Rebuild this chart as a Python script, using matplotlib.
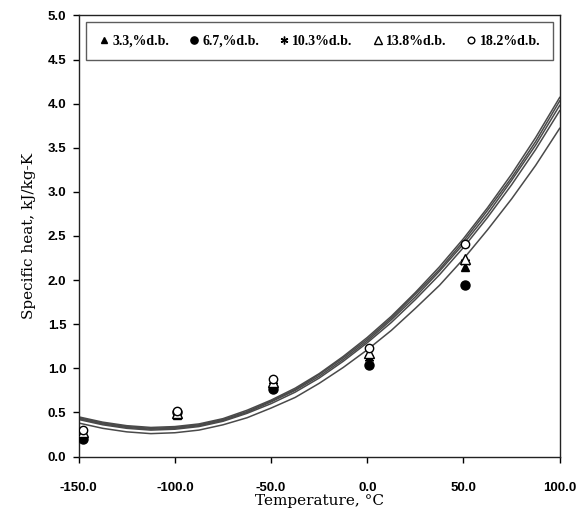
import matplotlib
matplotlib.use("Agg")
import matplotlib.pyplot as plt

# measured temperatures (deg C) for the data points
temps = [-148, -99, -49, 1, 51]

# specific heat, kJ/kg-K, one list per moisture content
cp_33 = [0.25, 0.47, 0.79, 1.08, 2.15]
cp_67 = [0.20, 0.51, 0.77, 1.04, 1.95]
cp_103 = [0.26, 0.48, 0.81, 1.12, 2.20]
cp_138 = [0.28, 0.49, 0.84, 1.17, 2.24]
cp_182 = [0.30, 0.52, 0.88, 1.23, 2.41]

labels = ["3.3,%d.b.", "6.7,%d.b.", "10.3%d.b.", "13.8%d.b.", "18.2%d.b."]

# fitted curves
curve_t = [-150, -137.5, -125, -112.5, -100, -87.5, -75, -62.5, -50, -37.5, -25,
           -12.5, 0, 12.5, 25, 37.5, 50, 62.5, 75, 87.5, 100]
fit_a = [0.45, 0.39, 0.35, 0.33, 0.34, 0.37, 0.43, 0.525, 0.64, 0.775, 0.94,
         1.135, 1.35, 1.59, 1.86, 2.15, 2.47, 2.82, 3.20, 3.615, 4.07]
fit_b = [0.44, 0.38, 0.34, 0.32, 0.33, 0.36, 0.42, 0.51, 0.63, 0.76, 0.93,
         1.12, 1.33, 1.57, 1.84, 2.12, 2.44, 2.79, 3.16, 3.57, 4.03]
fit_c = [0.43, 0.37, 0.33, 0.31, 0.32, 0.35, 0.41, 0.50, 0.62, 0.75, 0.91,
         1.10, 1.31, 1.55, 1.81, 2.10, 2.41, 2.75, 3.13, 3.53, 3.98]
fit_d = [0.42, 0.36, 0.32, 0.30, 0.31, 0.34, 0.40, 0.49, 0.60, 0.73, 0.89,
         1.08, 1.29, 1.52, 1.78, 2.06, 2.37, 2.71, 3.08, 3.48, 3.92]
fit_e = [0.38, 0.32, 0.28, 0.26, 0.27, 0.30, 0.36, 0.44, 0.55, 0.67, 0.83,
         1.01, 1.21, 1.43, 1.68, 1.94, 2.24, 2.57, 2.92, 3.30, 3.72]

fig = plt.figure(figsize=(5.83, 5.13), dpi=100)
ax = fig.add_axes([0.135, 0.11, 0.825, 0.86])

for fit in [fit_a, fit_b, fit_c, fit_d, fit_e]:
    ax.plot(curve_t, fit, color="#4a4a4a", lw=1.1, zorder=2)

ax.plot(temps, cp_33, ls="none", marker="^", ms=6, color="black", label=labels[0], zorder=3)
ax.plot(temps, cp_67, ls="none", marker="o", ms=6.5, color="black", label=labels[1], zorder=3)
ax.plot(temps, cp_103, ls="none", marker=(6, 2, 0), ms=7, mew=1.0, color="black", label=labels[2], zorder=3)
ax.plot(temps, cp_138, ls="none", marker="^", ms=6.5, mfc="white", mec="black", mew=1.0, label=labels[3], zorder=3)
ax.plot(temps, cp_182, ls="none", marker="o", ms=6, mfc="white", mec="black", mew=1.0, label=labels[4], zorder=3)

ax.set_xlim(-150, 100)
ax.set_ylim(0, 5)
ax.set_xticks([-150, -100, -50, 0, 50, 100])
ax.set_yticks([0, 0.5, 1, 1.5, 2, 2.5, 3, 3.5, 4, 4.5, 5])
ax.xaxis.set_major_formatter(plt.FormatStrFormatter("%.1f"))
ax.yaxis.set_major_formatter(plt.FormatStrFormatter("%.1f"))
ax.tick_params(direction="out", length=4, width=1, labelsize=9.5, pad=5)
ax.tick_params(axis="x", pad=14)
for lab in ax.get_xticklabels() + ax.get_yticklabels():
    lab.set_fontweight("bold")
    lab.set_family("Liberation Sans")

for sp in ax.spines.values():
    sp.set_linewidth(1.0)
    sp.set_color("#222222")

ax.set_xlabel("Temperature, \u00b0C", family="DejaVu Serif", fontsize=11, labelpad=0)
ax.set_ylabel("Specific heat, kJ/kg-K", family="DejaVu Serif", fontsize=11, labelpad=8)

leg = ax.legend(loc="upper left", bbox_to_anchor=(0.0, 1.0, 1.0, 0.0), mode="expand",
                ncol=5, frameon=True, fancybox=False, handlelength=0.8, handletextpad=0.2,
                columnspacing=0.6, borderpad=0.9, markerscale=0.8,
                prop={"family": "Liberation Serif", "weight": "bold", "size": 10})
leg.get_frame().set_edgecolor("#333333")
leg.get_frame().set_linewidth(1.0)

fig.savefig("out.png", dpi=100)
